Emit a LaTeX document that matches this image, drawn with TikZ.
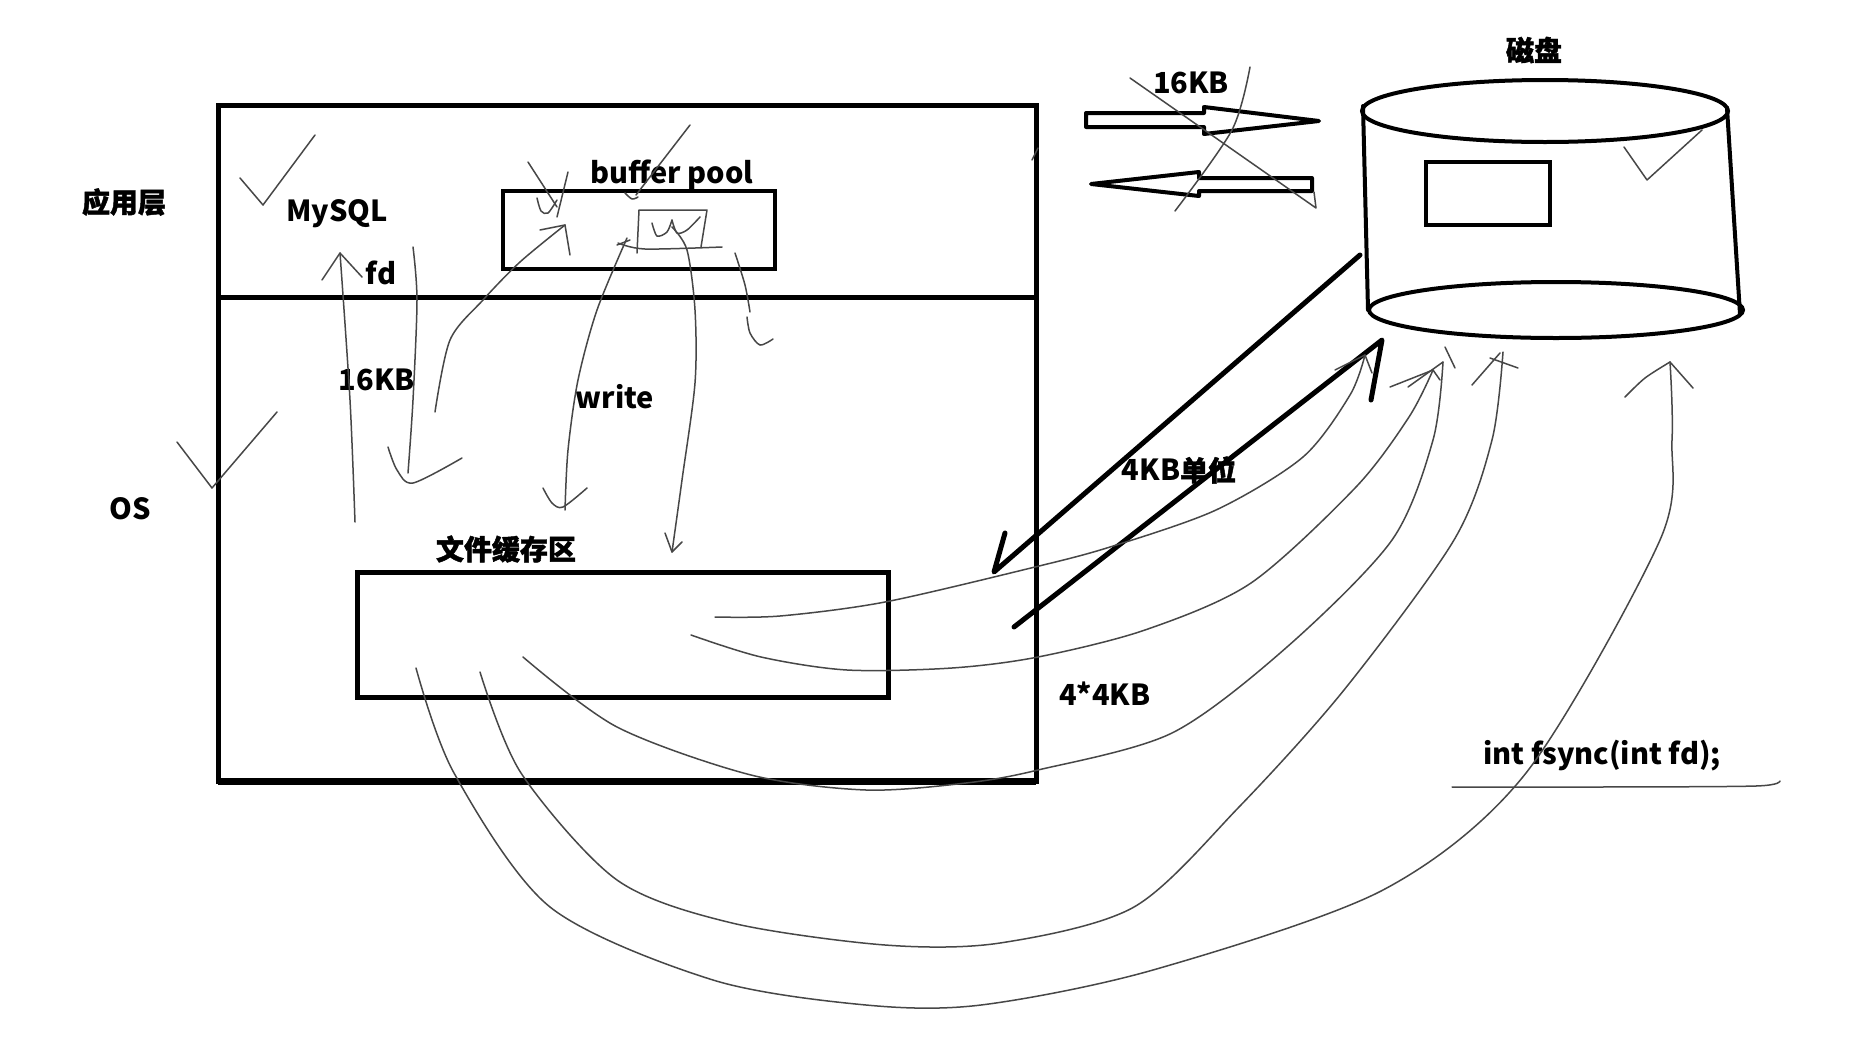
\documentclass[tikz,border=0pt]{standalone}
\usepackage{fontspec}
\newfontfamily\cjk{Noto Sans CJK SC}
\newfontfamily\cjkh{Noto Sans CJK SC}[BoldFeatures={FakeBold=1.6}]
\begin{document}
\begin{tikzpicture}[x=1pt,y=-1pt,
  heavy/.style={draw, line width=5pt, inner sep=0pt, outer sep=0pt},
  medium/.style={draw, line width=4pt, inner sep=0pt, outer sep=0pt},
  pen/.style={draw=black!72, line width=1.5pt, line cap=round, line join=round},
  lbl/.style={font=\cjk\bfseries\fontsize{29}{29}\selectfont, inner sep=0pt},
  clbl/.style={font=\cjkh\bfseries\fontsize{28}{28}\selectfont, inner sep=0pt}]
\useasboundingbox[fill=white] (0,0) rectangle (1872,1047);

% ---------- boxes ----------
\node[heavy, minimum width=818pt, minimum height=676pt] (outer) at (627,443) {};
\coordinate (dv) at (0,297);
\draw[line width=5pt] (outer.west|-dv) -- (outer.east|-dv);
\draw[line width=7pt] (outer.south west) -- (outer.south east);
\node[medium, minimum width=272pt, minimum height=78pt] (bp) at (639,229.5) {};
\node[heavy, minimum width=531pt, minimum height=125pt] (fbox) at (622.5,634.5) {};

% ---------- disk cylinder ----------
\coordinate (dtop) at (1545,111);
\coordinate (dbot) at (1556,310);
\draw[line width=4pt] (dtop) ellipse [x radius=183pt, y radius=31pt];
\draw[line width=4pt] (dbot) ellipse [x radius=187pt, y radius=28pt];
\draw[line width=4pt, line cap=round] (1363,106) -- (1368,310);
\draw[line width=4pt, line cap=round] (1727,108) -- (1740,314);
\node[medium, minimum width=124pt, minimum height=63pt] (blk) at (1488,193.5) {};

% ---------- labels ----------
\node[clbl] (app) at (124,202) {应用层};
\node[lbl] (os) at (130,509) {OS};
\node[lbl] (mysql) at (337,214) {MySQL};
\node[lbl] (fd) at (381,273) {fd};
\node[lbl] (bpl) at (672,175) {buffer pool};
\node[lbl] (k16a) at (377,380) {16KB};
\node[lbl] (wr) at (615,397) {write};
\node[clbl] (fc) at (506,549) {文件缓存区};
\node[lbl] (k16b) at (1191,83) {16KB};
\node[clbl] (dk) at (1534,50) {磁盘};
\node[lbl] (u4) at (1179,470) {4KB{\cjkh\bfseries\fontsize{28}{28}\selectfont 单位}};
\node[lbl] (k44) at (1105,694) {4*4KB};
\node[lbl] (fs) at (1602,756) {int fsync(int fd);};

% ---------- block arrows ----------
\draw[line width=4pt, line join=round] (1086,113) -- (1204,113) -- (1204,107) -- (1319,121)
  -- (1204,134) -- (1204,127) -- (1086,127) -- cycle;
\draw[line width=4pt, line join=round] (1091,184) -- (1199,172) -- (1199,178) -- (1312,178)
  -- (1312,191) -- (1199,191) -- (1199,196) -- cycle;
% cross scribble over them
\draw[pen] (1130,78) -- (1316,208) -- (1314,192);
\draw[pen] plot[smooth] coordinates {(1250,67) (1232,130) (1175,211)};

% ---------- thick arrows disk <-> file cache ----------
\coordinate (rdA) at (1360,255);
\coordinate (rdB) at (994,572);
\draw[line width=5pt, line cap=round, line join=round] (rdA) -- (rdB) -- (1005,533);
\coordinate (wrA) at (1014,627);
\coordinate (wrB) at (1382,340);
\draw[line width=5pt, line cap=round, line join=round] (wrA) -- (wrB) -- (1371,400);

% ---------- thin hand strokes in the boxes ----------
% fd arrow up
\coordinate (fdA) at (355,522);
\coordinate (fdB) at (340,253);
\draw[pen] plot[smooth] coordinates {(fdA) (350,400) (fdB)};
\draw[pen] (322,280) -- (fdB) -- (362,277);
% down stroke with hook
\draw[pen] plot[smooth] coordinates {(413,247) (417,300) (413,400) (408,473)};
\draw[pen] plot[smooth] coordinates {(388,447) (397,470) (413,483) (462,458)};
% curve up into buffer pool
\coordinate (c3A) at (435,412);
\coordinate (c3B) at (565,225);
\draw[pen] plot[smooth] coordinates {(c3A) (450,340) (483,300) (520,262) (c3B)};
\draw[pen] (540,230) -- (c3B) -- (570,255);
% write arrow down
\coordinate (c4A) at (627,238);
\coordinate (c4B) at (565,510);
\draw[pen] plot[smooth] coordinates {(c4A) (597,310) (578,380) (568,450) (c4B)};
\draw[pen] plot[smooth] coordinates {(543,488) (552,503) (563,507) (587,488)};
\draw[pen] (617,245) -- (630,240);
% second down arrow
\coordinate (c5A) at (672,227);
\coordinate (c5B) at (672,552);
\draw[pen] plot[smooth] coordinates {(c5A) (687,250) (695,310) (695,383) (682,480) (c5B)};
\draw[pen] (665,533) -- (c5B) -- (682,542);
% third stroke
\draw[pen] plot[smooth] coordinates {(735,253) (745,285) (750,312)};
\draw[pen] plot[smooth] coordinates {(747,317) (750,333) (760,345) (773,339)};
% small sketch in buffer pool
\draw[pen] (637,253) -- (639,210) -- (707,210) -- (701,247);
\draw[pen] plot[smooth] coordinates {(618,243) (645,249) (722,247)};
\draw[pen] plot[smooth] coordinates {(652,223) (657,236) (667,232) (672,220)};
\draw[pen] plot[smooth] coordinates {(672,220) (677,233) (687,230) (700,217)};
% check marks
\draw[pen] (528,162) -- (557,207);
\draw[pen] (568,172) -- (557,217);
\draw[pen] plot[smooth] coordinates {(537,198) (541,211) (548,213) (557,200)};
\draw[pen] (690,125) -- (636,195);
\draw[pen] plot[smooth] coordinates {(625,193) (632,199) (638,197)};
\draw[pen] (240,178) -- (263,205) -- (315,135);
\draw[pen] (177,442) -- (212,488) -- (277,412);
\draw[pen] (1624,147) -- (1647,180) -- (1702,130);
\draw[pen] (1032,160) -- (1038,148);

% ---------- long strokes file cache -> disk ----------
\coordinate (aA) at (715,617);
\coordinate (aB) at (1365,355);
\draw[pen] plot[smooth] coordinates {(aA) (780,616) (885,602) (1035,567) (1110,547) (1216,510) (1303,457) (1350,395) (aB)};
\draw[pen] (1335,370) -- (aB) -- (1372,373);

\coordinate (bA) at (691,635);
\coordinate (bB) at (1433,370);
\draw[pen] plot[smooth] coordinates {(bA) (761,657) (847,670) (952,668) (1038,657) (1145,630) (1251,583) (1356,487) (1409,417) (bB)};
\draw[pen] (1390,387) -- (bB) -- (1440,380);

\coordinate (cA) at (523,657);
\coordinate (cB) at (1443,362);
\draw[pen] plot[smooth] coordinates {(cA) (617,727) (751,775) (866,790) (966,783) (1038,770) (1172,733) (1287,647) (1392,540) (1433,440) (cB)};
\draw[pen] (1408,387) -- (cB);
\draw[pen] (1445,347) -- (1455,368);

\coordinate (dA) at (480,672);
\coordinate (dB) at (1503,352);
\draw[pen] plot[smooth] coordinates {(dA) (521,773) (617,880) (732,923) (885,945) (1000,943) (1134,907) (1239,807) (1344,690) (1454,540) (1492,440) (dB)};
\draw[pen] (1472,385) -- (1500,353);
\draw[pen] (1490,358) -- (1518,368);

\coordinate (eA) at (416,668);
\coordinate (eB) at (1670,362);
\draw[pen] plot[smooth] coordinates {(eA) (454,773) (550,907) (713,980) (866,1005) (981,1005) (1153,970) (1383,890) (1526,773) (1660,540) (1672,440) (eB)};
\draw[pen] plot[smooth] coordinates {(1625,397) (1645,378) (eB)};
\draw[pen] (eB) -- (1693,388);

% underline of fsync
\draw[pen] plot[smooth] coordinates {(1452,787) (1600,787) (1756,786) (1780,781)};
\end{tikzpicture}
\end{document}
